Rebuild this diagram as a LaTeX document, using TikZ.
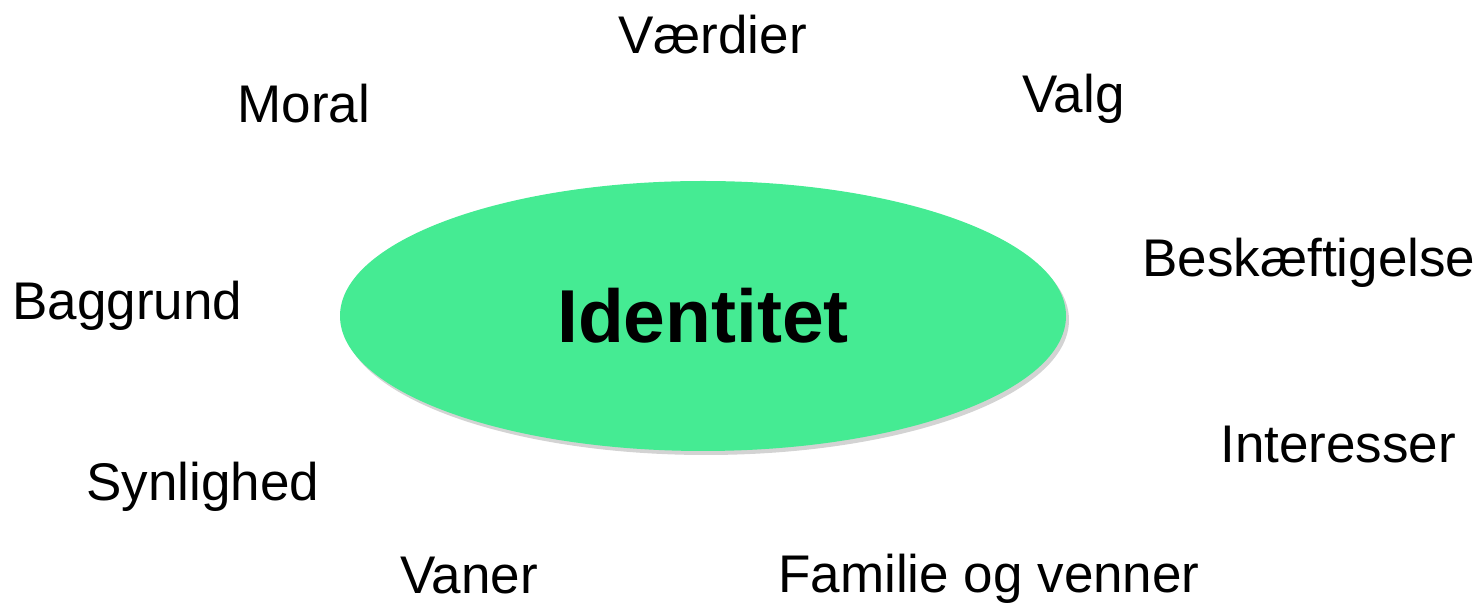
\documentclass[tikz,border=0pt]{standalone}
\usepackage{fontspec}
\setmainfont{Liberation Sans}
\usetikzlibrary{shapes.geometric,shadows}
\definecolor{idgreen}{RGB}{69,235,147}
\tikzset{
  word/.style={anchor=base west,inner sep=0pt,font=\fontsize{26.5pt}{30pt}\selectfont},
  core/.style={ellipse,fill=idgreen,draw=none,inner sep=0pt,
    minimum width=363pt,minimum height=135pt,
    font=\fontsize{37.5pt}{42pt}\selectfont\bfseries,
    drop shadow={shadow xshift=1.5pt,shadow yshift=-2pt,opacity=0.35,fill=gray}}
}
\begin{document}
\begin{tikzpicture}[x=0.5pt,y=-0.5pt]
\useasboundingbox (0,0) rectangle (1480,603);
\node[core] (id) at (703,316) {Identitet};
\node[word] (vaerdier) at (618,54) {Værdier};
\node[word] (moral) at (237,123) {Moral};
\node[word] (valg) at (1022,113) {Valg};
\node[word] (besk) at (1142,277) {Beskæftigelse};
\node[word] (baggrund) at (12,320) {Baggrund};
\node[word] (interesser) at (1220,463) {Interesser};
\node[word] (synlighed) at (86,501) {Synlighed};
\node[word] (vaner) at (400,594) {Vaner};
\node[word] (familie) at (778,593) {Familie og venner};
\end{tikzpicture}
\end{document}
